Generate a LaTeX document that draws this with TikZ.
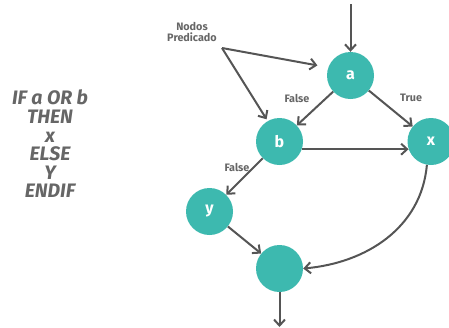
\documentclass[tikz,border=0pt]{standalone}
\usepackage{fontspec}
\setmainfont{Fira Sans}
\usetikzlibrary{arrows.meta}
\definecolor{tealnode}{HTML}{3DB9AF}
\definecolor{edgegray}{HTML}{555555}
\definecolor{textgray}{HTML}{666666}
\begin{document}
\begin{tikzpicture}[x=1pt,y=-1pt,
  flownode/.style={circle,fill=tealnode,minimum size=47pt,inner sep=0pt,
    text=white,font=\bfseries\fontsize{16}{16}\selectfont},
  flow/.style={draw=edgegray,line width=2pt,
    -{Straight Barb[length=6pt,width=11pt,line width=2pt]}},
  lbl/.style={text=textgray,font=\bfseries\fontsize{10.8}{11.2}\selectfont,align=center},
  code/.style={text=textgray,font=\bfseries\itshape\fontsize{19.5}{18.6}\selectfont,align=center}]
\useasboundingbox (0,0) rectangle (449,327);

% pseudocode
\node[code] (src) at (50,144) {IF a OR b\\THEN\\x\\ELSE\\Y\\ENDIF};

% flow graph nodes
\node[flownode] (a) at (350.5,75.5) {a};
\node[flownode] (b) at (279.5,141.5) {b};
\node[flownode] (x) at (431,141.5) {x};
\node[flownode] (y) at (209.5,211.5) {y};
\node[flownode] (m) at (279.5,268.5) {};

\coordinate (in) at (350.5,4);
\coordinate (out) at (279.5,327);

% edges
\draw[flow] (in) -- (a);
\draw[flow] (a) -- (b);
\draw[flow] (a) -- (x);
\draw[flow] (b.-19) -- (x.199);
\draw[flow] (b) -- (y);
\draw[flow] (y) -- (m);
\draw[flow] (x.-100) to[out=-95,in=5] (m.east);
\draw[flow] (m) -- (out);

% edge labels
\node[lbl] (f1) at (297,98) {False};
\node[lbl] (t1) at (411,98) {True};
\node[lbl] (f2) at (237,167) {False};

% predicate annotation
\node[lbl] (pred) at (192,32) {Nodos\\Predicado};
\coordinate (p) at (222,48);
\draw[flow,shorten >=11pt] (p) -- (a.160);
\draw[flow,shorten >=2pt] (p) -- (b.120);
\end{tikzpicture}
\end{document}
